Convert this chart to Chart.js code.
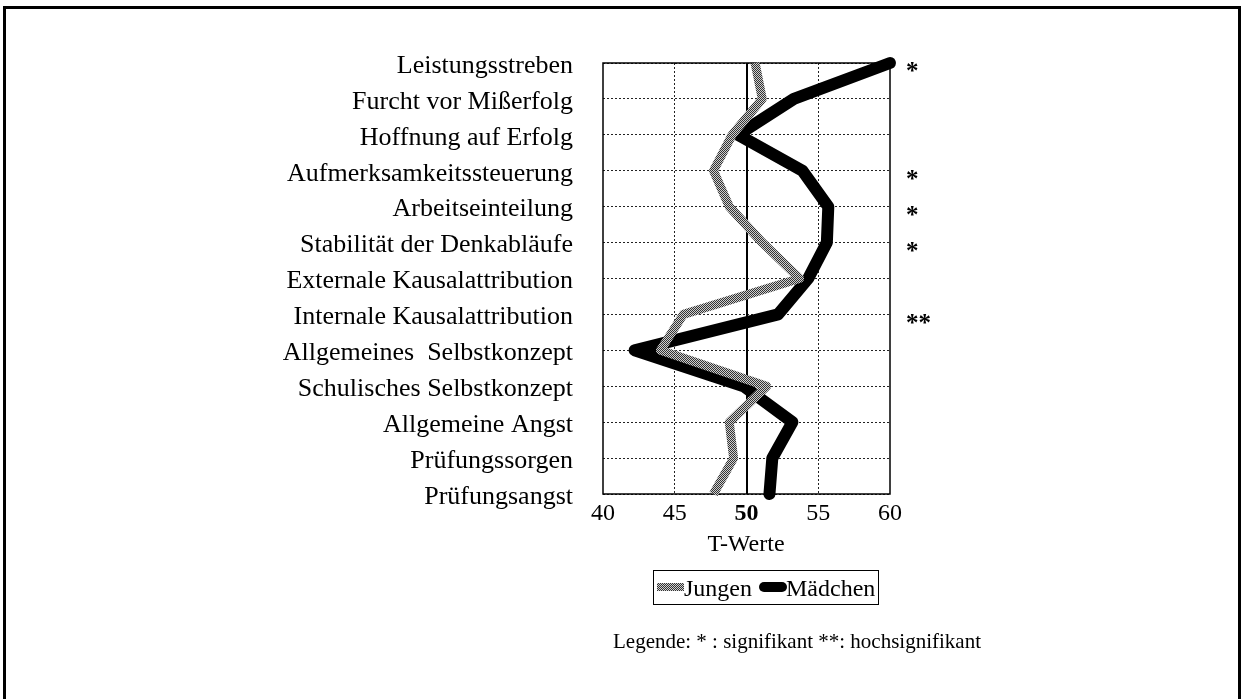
<!DOCTYPE html>
<html>
<head>
<meta charset="utf-8">
<script src="https://cdn.jsdelivr.net/npm/chart.js@4/dist/chart.umd.min.js"></script>
<style>
  html, body { margin: 0; padding: 0; background: #fff; }
  body { width: 1246px; height: 699px; position: relative; overflow: hidden; font-family: "Liberation Serif", "Times New Roman", serif; color: #000; }
  #frame { position: absolute; left: 3px; top: 6px; width: 1238px; height: 720px; border: 3px solid #000; box-sizing: border-box; }
  #wrap { position: absolute; left: 0; top: 0; width: 1246px; height: 699px; }
  .txt { position: absolute; white-space: nowrap; line-height: 1; }
  #xtitle { left: 746px; top: 531px; transform: translateX(-50%); font-size: 24px; }
  #legend { position: absolute; left: 653px; top: 570px; width: 226px; height: 35px; border: 1.5px solid #000; box-sizing: border-box; font-size: 24px; }
  #legend .s1 { position: absolute; left: 3px; top: 12px; width: 27px; height: 8px; background-image: repeating-conic-gradient(#333 0 25%, #cfcfcf 0 50%); background-size: 2px 2px; }
  #legend .l1 { position: absolute; left: 30px; top: 5px; }
  #legend .s2 { position: absolute; left: 105px; top: 11px; width: 28px; height: 10px; background: #000; border-radius: 5px; }
  #legend .l2 { position: absolute; left: 132px; top: 5px; }
  #note { left: 797px; top: 631px; transform: translateX(-50%); font-size: 21px; }
</style>
</head>
<body>
<div id="frame"></div>
<div id="wrap"><canvas id="c" width="1246" height="699"></canvas></div>
<div class="txt" id="xtitle">T-Werte</div>
<div id="legend"><div class="s1"></div><span class="txt l1">Jungen</span><div class="s2"></div><span class="txt l2">Mädchen</span></div>
<div class="txt" id="note">Legende: * : signifikant **: hochsignifikant</div>
<script>
const categories = [
  "Leistungsstreben",
  "Furcht vor Mißerfolg",
  "Hoffnung auf Erfolg",
  "Aufmerksamkeitssteuerung",
  "Arbeitseinteilung",
  "Stabilität der Denkabläufe",
  "Externale Kausalattribution",
  "Internale Kausalattribution",
  "Allgemeines  Selbstkonzept",
  "Schulisches Selbstkonzept",
  "Allgemeine Angst",
  "Prüfungssorgen",
  "Prüfungsangst"
];
const jungen   = [50.6, 51.1, 49.0, 47.7, 48.8, 51.1, 53.7, 45.6, 44.0, 51.4, 48.8, 49.1, 47.7];
const maedchen = [60.0, 53.3, 49.4, 53.9, 55.7, 55.6, 54.3, 52.2, 42.2, 49.8, 53.2, 51.8, 51.6];
const significance = ["*", "", "", "*", "*", "*", "", "**", "", "", "", "", ""];
const xMin = 40, xMax = 60, xStep = 5, referenceValue = 50;

function makePattern() {
  const p = document.createElement('canvas');
  p.width = 2; p.height = 2;
  const g = p.getContext('2d');
  g.fillStyle = '#cfcfcf'; g.fillRect(0, 0, 2, 2);
  g.fillStyle = '#333'; g.fillRect(0, 0, 1, 1); g.fillRect(1, 1, 1, 1);
  return g.createPattern(p, 'repeat');
}
const ctx = document.getElementById('c').getContext('2d');
const greyPattern = makePattern();

const extras = {
  id: 'extras',
  beforeDatasetsDraw(chart) {
    const c = chart.ctx, a = chart.chartArea, xs = chart.scales.x;
    c.save();
    const x50 = Math.round(xs.getPixelForValue(referenceValue));
    c.strokeStyle = '#000'; c.lineWidth = 2;
    c.beginPath(); c.moveTo(x50, a.top); c.lineTo(x50, a.bottom); c.stroke();
    c.lineWidth = 1.5;
    c.strokeRect(a.left, a.top, a.right - a.left, a.bottom - a.top);
    c.restore();
  },
  afterDraw(chart) {
    const c = chart.ctx, ys = chart.scales.y, a = chart.chartArea;
    c.save();
    c.fillStyle = '#000';
    c.font = 'bold 25px "Liberation Serif", serif';
    c.textAlign = 'left'; c.textBaseline = 'middle';
    significance.forEach((s, i) => {
      if (!s) return;
      c.fillText(s, a.right + 16, ys.getPixelForValue(i) + 10);
    });
    c.restore();
  }
};

new Chart(ctx, {
  type: 'line',
  data: {
    labels: categories,
    datasets: [
      { label: 'Jungen', data: jungen, borderColor: greyPattern, backgroundColor: greyPattern, borderWidth: 9, pointRadius: 0, tension: 0, clip: false, borderJoinStyle: 'round', borderCapStyle: 'butt' },
      { label: 'Mädchen', data: maedchen, borderColor: '#000', backgroundColor: '#000', borderWidth: 12, pointRadius: 0, tension: 0, clip: false, borderJoinStyle: 'round', borderCapStyle: 'round' }
    ]
  },
  options: {
    indexAxis: 'y',
    responsive: false,
    animation: false,
    devicePixelRatio: 1,
    layout: { padding: { left: 0, right: 356, top: 63, bottom: 0 } },
    plugins: { legend: { display: false }, tooltip: { enabled: false } },
    scales: {
      x: {
        type: 'linear', position: 'bottom', min: xMin, max: xMax,
        afterFit(s) { s.height = 205; },
        ticks: {
          stepSize: xStep, padding: 5, color: '#000',
          font: (c) => ({ family: '"Liberation Serif", serif', size: 24, weight: (c.tick && c.tick.value === referenceValue) ? 'bold' : 'normal' })
        },
        grid: { color: (c) => (c.tick && (c.tick.value === referenceValue || c.tick.value === xMin || c.tick.value === xMax)) ? 'rgba(0,0,0,0)' : '#222', lineWidth: 1, drawTicks: false },
        border: { display: false, dash: [2, 2] }
      },
      y: {
        type: 'category', offset: false, position: 'left',
        afterFit(s) { s.width = 603; },
        ticks: { autoSkip: false, padding: 30, labelOffset: 3, color: '#000', font: { family: '"Liberation Serif", serif', size: 26 } },
        grid: { color: '#222', lineWidth: 1, drawTicks: false },
        border: { display: false, dash: [2, 2] }
      }
    }
  },
  plugins: [extras]
});
</script>
</body>
</html>
